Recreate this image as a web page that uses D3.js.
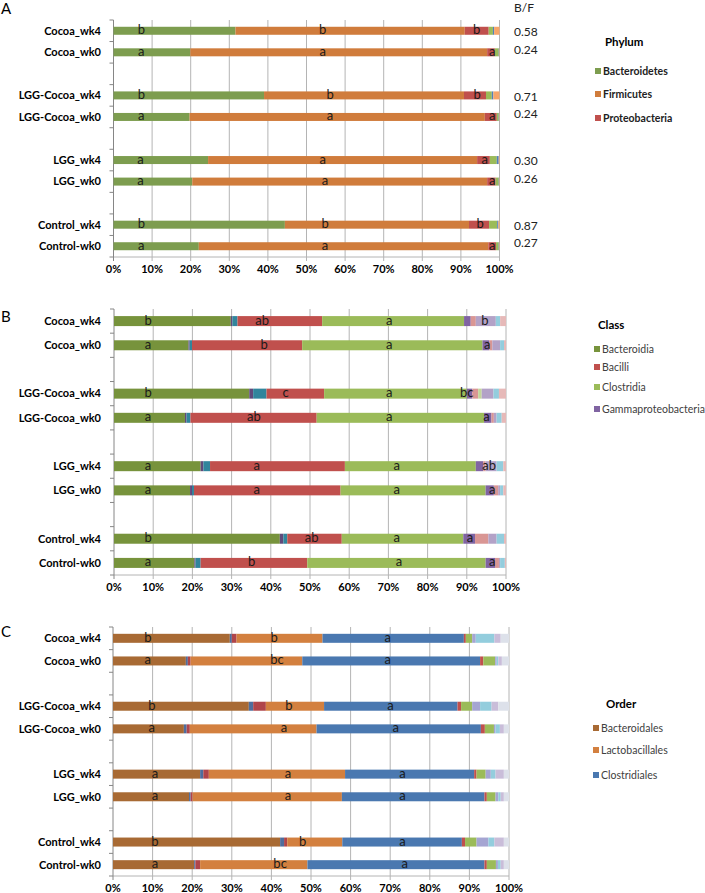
<!DOCTYPE html>
<html><head><meta charset="utf-8">
<script src="https://cdn.jsdelivr.net/npm/d3@7"></script>
<style>
html,body{margin:0;padding:0;background:#fff;}
svg{display:block;font-family:Lato,"Open Sans",sans-serif;}
</style></head>
<body><svg id="c" width="705" height="893"></svg>
<script>
// ---------- DATA ----------
const slots = ["Cocoa_wk4","Cocoa_wk0","gap1","LGG-Cocoa_wk4","LGG-Cocoa_wk0","gap2","LGG_wk4","LGG_wk0","gap3","Control_wk4","Control-wk0"];
const groups = ["Cocoa_wk4","Cocoa_wk0","LGG-Cocoa_wk4","LGG-Cocoa_wk0","LGG_wk4","LGG_wk0","Control_wk4","Control-wk0"];
const ticksPct = [0,10,20,30,40,50,60,70,80,90,100];

// Panel A – phylum (% per group, same order as groups)
const phylumKeys = ["Bacteroidetes","Firmicutes","Proteobacteria","Phylum4","Phylum5","Phylum6"];
const bacteroidetes  = [31.6,19.9,39.0,19.7,24.5,20.4,44.4,22.1];
const firmicutes     = [59.4,76.9,51.8,76.5,69.7,76.4,47.7,75.0];
const proteobacteria = [6.2,2.0,5.7,3.1,3.3,2.2,5.2,2.0];
const phylum4        = [1.1,1.0,1.5,0.5,1.8,0.8,2.1,0.7];
const phylum5        = [0.3,0.1,0.4,0.1,0.5,0.1,0.3,0.1];
const phylum6        = [1.4,0.1,1.6,0.1,0.2,0.1,0.3,0.1];
const bfRatio = ["0.58","0.24","0.71","0.24","0.30","0.26","0.87","0.27"];
const lettersA_B = ["b","a","b","a","a","a","b","a"];
const lettersA_F = ["b","a","b","a","a","a","b","a"];
const lettersA_P = ["b","a","b","a","a","a","b","a"];
const atA_B = [7.2,7.2,7.2,7.2,7.0,7.0,7.2,7.2];
const atA_F = [54.2,54.2,56.1,56.1,54.2,54.8,54.8,54.8];
const atA_P = [94.1,98.1,94.2,98.1,96.2,98.1,95.0,98.1];

// Panel B – class
const classKeys = ["Bacteroidia","Class2","Class3","Bacilli","Clostridia","Gammaproteobacteria","Class7","Class8","Class9","Class10","Class11"];
const bacteroidia = [29.8,19.0,34.5,18.1,22.1,19.4,42.3,20.5];
const class2      = [0.4,0.3,1.0,0.4,0.7,0.5,0.9,0.3];
const class3      = [1.3,0.6,3.4,1.0,1.7,0.5,1.0,1.3];
const bacilli     = [21.6,28.1,14.7,32.2,34.4,37.4,13.9,27.2];
const clostridia  = [36.2,46.0,36.4,42.7,33.4,37.0,31.0,45.5];
const gammaprot   = [1.7,1.7,1.4,1.9,1.9,2.1,3.0,2.4];
const class7      = [1.3,0.8,1.5,0.6,0.6,1.1,3.4,1.0];
const class8      = [0,0,0.9,0,0,0,0,0];
const class9      = [5.1,2.0,3.0,0.7,2.8,0.5,2.1,0.3];
const class10     = [1.1,1.0,1.4,1.3,1.7,0.8,1.9,1.2];
const class11     = [1.5,0.5,1.8,1.1,0.7,0.7,0.5,0.3];
const lettersB_1 = ["b","a","b","a","a","a","b","a"];
const lettersB_2 = ["ab","b","c","ab","a","a","ab","b"];
const lettersB_3 = ["a","a","a","a","a","a","a","a"];
const lettersB_4 = ["b","a","bc","a","ab","a","a","a"];
const atB_1 = [8.7,8.7,8.7,8.7,8.7,8.7,8.7,8.7];
const atB_2 = [37.8,38.3,43.8,35.7,36.4,36.4,50.4,35.1];
const atB_3 = [70.2,70.2,70.2,70.2,72.1,72.1,72.1,72.7];
const atB_4 = [94.6,95.2,90.0,95.0,95.7,96.5,90.8,96.5];

// Panel C – order
const orderKeys = ["Bacteroidales","Order2","Order3","Lactobacillales","Clostridiales","Order6","Order7","Order8","Order9","Order10","Order11"];
const bacteroidales   = [29.5,18.4,34.3,17.9,22.0,19.2,42.2,20.5];
const order2          = [0.5,0.5,1.1,0.7,0.8,0.4,1.0,0.3];
const order3          = [1.2,0.7,3.2,0.8,1.4,0.5,0.8,1.2];
const lactobacillales = [21.7,28.2,14.7,32.0,34.4,37.7,13.9,27.1];
const clostridiales   = [35.7,44.9,33.7,41.5,32.6,36.0,30.2,44.7];
const order6          = [0.5,0.8,0.9,1.0,0.6,0.6,0.8,0.6];
const order7          = [1.6,3.0,2.8,2.3,2.3,2.2,2.9,2.3];
const order8          = [0.9,0.4,2.0,0.4,1.3,0.7,3.0,0.5];
const order9          = [4.7,0.4,2.9,1.1,1.2,0.6,1.5,0.7];
const order10         = [1.6,0.9,1.7,1.0,2.1,0.8,2.4,0.8];
const order11         = [2.1,1.8,2.7,1.3,1.3,1.3,1.3,1.3];
const lettersC_1 = ["b","a","b","a","a","a","b","a"];
const lettersC_2 = ["b","bc","b","a","a","a","b","bc"];
const lettersC_3 = ["a","a","a","a","a","a","a","a"];
const atC_1 = [8.8,8.8,9.8,9.8,10.6,10.6,10.6,10.6];
const atC_2 = [40.7,41.4,44.4,43.2,44.2,44.2,47.9,42.2];
const atC_3 = [69.4,69.4,70.1,71.4,73.1,73.1,73.1,73.7];

// ---------- STYLE ----------
const colA = ["#7d9d4f","#d07c3c","#c0504d","#9bbb59","#4f81bd","#f6a56a"];
const colB = ["#77933c","#604a7b","#31859c","#c0504d","#9bbb59","#8064a2","#d99694","#c3d69b","#b3a2c7","#93cddd","#e6b9b8"];
const colC = ["#a86a34","#4f6d9c","#b0454a","#d3803f","#4a78b0","#c0504d","#9bbb59","#a5a5d2","#93cddd","#c9bdd9","#dde1ea"];

const svg = d3.select("#c");

function table(keys, arrays){
  return groups.map((g,i)=>{ const o={group:g}; keys.forEach((k,j)=>o[k]=arrays[j][i]); return o; });
}

function panel(cfg){
  const x = d3.scaleLinear().domain([0,100]).range([cfg.x0,cfg.x1]);
  const y = d3.scaleBand().domain(slots).range([cfg.y0,cfg.y1]).paddingInner(cfg.pad).paddingOuter(cfg.pad/2);
  const g = svg.append("g");
  // gridlines
  g.selectAll(".grid").data(ticksPct.slice(1)).join("line")
    .attr("x1",d=>x(d)).attr("x2",d=>x(d)).attr("y1",cfg.y0).attr("y2",cfg.y1+4)
    .attr("stroke","#b4b4b4").attr("stroke-width",1);
  // bottom axis
  g.append("line").attr("x1",x(0)).attr("x2",x(100)).attr("y1",cfg.y1).attr("y2",cfg.y1).attr("stroke","#b4b4b4");
  g.append("line").attr("x1",x(0)).attr("x2",x(0)).attr("y1",cfg.y1).attr("y2",cfg.y1+4).attr("stroke","#868686");
  // left axis
  g.append("line").attr("x1",x(0)).attr("x2",x(0)).attr("y1",cfg.y0).attr("y2",cfg.y1).attr("stroke","#868686");
  const step = y.step();
  g.selectAll(".yt").data(d3.range(slots.length+1)).join("line")
    .attr("x1",x(0)-4).attr("x2",x(0)).attr("y1",d=>cfg.y0+d*step).attr("y2",d=>cfg.y0+d*step)
    .attr("stroke","#868686");
  // tick labels
  g.selectAll(".tl").data(ticksPct).join("text")
    .attr("x",d=>x(d)).attr("y",cfg.y1+16).attr("text-anchor","middle")
    .attr("font-size",11).attr("font-weight","bold").attr("fill","#000").text(d=>d+"%");
  // category labels
  g.selectAll(".cl").data(groups).join("text")
    .attr("x",101).attr("y",d=>y(d)+y.bandwidth()/2).attr("dy","0.35em").attr("text-anchor","end")
    .attr("font-size",11).attr("font-weight","bold").attr("fill","#000").text(d=>d);
  // bars
  const data = table(cfg.keys, cfg.arrays);
  const stack = d3.stack().keys(cfg.keys)(data);
  const bh = cfg.bh;
  g.selectAll(".s").data(stack).join("g").attr("fill",(d,i)=>cfg.colors[i])
    .selectAll("rect").data(d=>d).join("rect")
    .attr("x",d=>x(d[0])).attr("width",d=>Math.max(0,x(d[1])-x(d[0])))
    .attr("y",d=>y(d.data.group)+y.bandwidth()/2-bh/2).attr("height",bh);
  // significance letters
  cfg.letters.forEach(([lets,ats])=>{
    g.selectAll(null).data(groups).join("text")
      .attr("x",(d,i)=>x(ats[i])).attr("y",d=>y(d)+y.bandwidth()/2+3.5)
      .attr("text-anchor","middle").attr("font-size",13).attr("fill","#1a1a1a")
      .text((d,i)=>lets[i]);
  });
  // panel letter
  g.append("text").attr("x",1).attr("y",cfg.letterY).attr("font-size",15).attr("fill","#000").text(cfg.panel);
  // legend
  const L = cfg.legend;
  g.append("text").attr("x",L.tx).attr("y",L.ty).attr("dy","0.35em").attr("font-size",11.5).attr("font-weight","bold").attr("fill","#000").text(L.title);
  L.items.forEach((k,i)=>{
    const ci = cfg.keys.indexOf(k);
    g.append("rect").attr("x",L.sx).attr("y",L.ys[i]-3).attr("width",6).attr("height",6).attr("fill",cfg.colors[ci]);
    g.append("text").attr("x",L.sx+8).attr("y",L.ys[i]).attr("dy","0.35em").attr("font-size",L.fs)
      .attr("font-weight",L.bold?"bold":"normal").attr("fill",L.fill).text(k);
  });
  return {x,y};
}

const pA = panel({x0:113.5,x1:499.5,y0:20,y1:257,pad:0.62,bh:8,keys:phylumKeys,
  arrays:[bacteroidetes,firmicutes,proteobacteria,phylum4,phylum5,phylum6],colors:colA,
  letters:[[lettersA_B,atA_B],[lettersA_F,atA_F],[lettersA_P,atA_P]],panel:"A",letterY:14,
  legend:{title:"Phylum",tx:605,ty:42,sx:595,ys:[71,94,118],items:["Bacteroidetes","Firmicutes","Proteobacteria"],fs:10.5,bold:true,fill:"#222"}});

const pB = panel({x0:114,x1:506,y0:309,y1:575,pad:0.6,bh:10,keys:classKeys,
  arrays:[bacteroidia,class2,class3,bacilli,clostridia,gammaprot,class7,class8,class9,class10,class11],colors:colB,
  letters:[[lettersB_1,atB_1],[lettersB_2,atB_2],[lettersB_3,atB_3],[lettersB_4,atB_4]],panel:"B",letterY:322,
  legend:{title:"Class",tx:598,ty:325,sx:594,ys:[349,367,387,409],items:["Bacteroidia","Bacilli","Clostridia","Gammaproteobacteria"],fs:10.5,bold:false,fill:"#404040"}});

const pC = panel({x0:113,x1:509,y0:627,y1:876,pad:0.6,bh:9,keys:orderKeys,
  arrays:[bacteroidales,order2,order3,lactobacillales,clostridiales,order6,order7,order8,order9,order10,order11],colors:colC,
  letters:[[lettersC_1,atC_1],[lettersC_2,atC_2],[lettersC_3,atC_3]],panel:"C",letterY:637,
  legend:{title:"Order",tx:606,ty:704,sx:593,ys:[728,750,775],items:["Bacteroidales","Lactobacillales","Clostridiales"],fs:10.5,bold:false,fill:"#404040"}});

// B/F column
svg.append("text").attr("x",514).attr("y",8).attr("dy","0.35em").attr("font-size",12).attr("fill","#222").text("B/F");
svg.selectAll(".bf").data(groups).join("text")
  .attr("x",514).attr("y",(d,i)=>pA.y(d)+pA.y.bandwidth()/2+(i%2===0?1:-3)).attr("dy","0.35em")
  .attr("font-size",12).attr("fill","#222").text((d,i)=>bfRatio[i]);
</script></body></html>
